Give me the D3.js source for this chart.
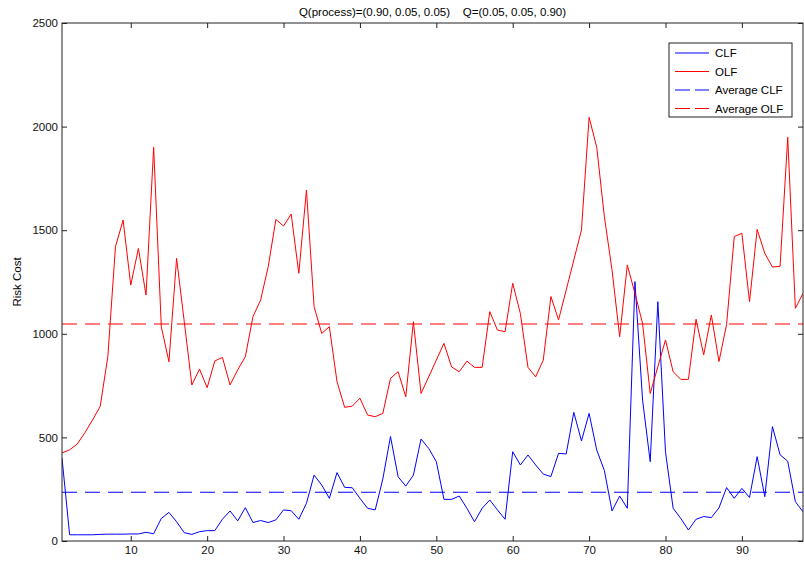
<!DOCTYPE html>
<html>
<head>
<meta charset="utf-8">
<script src="https://cdn.jsdelivr.net/npm/d3@7"></script>
<style>
    body { margin: 0; background: #fff; }
    text { font-family: "Liberation Sans", Arial, sans-serif; }
</style>
</head>
<body>
<div id="chart"></div>
<script>
// values, index 1..98
const steps = d3.range(1, 99);

const clf = [400, 30, 30, 30, 30, 32, 33, 33, 33, 34,
    34, 42, 35, 109, 138, 93, 40, 32, 45, 50,
    50, 105, 145, 97, 161, 89, 99, 89, 102, 150,
    146, 105, 182, 318, 270, 206, 330, 259, 257, 206,
    158, 150, 300, 504, 310, 265, 318, 492, 447, 383,
    201, 201, 217, 158, 93, 158, 198, 150, 105, 431,
    367, 415, 367, 323, 311, 423, 420, 621, 483, 616,
    439, 340, 145, 217, 158, 1252, 680, 383, 1155, 430,
    158, 109, 53, 105, 118, 113, 160, 258, 206, 254,
    210, 407, 214, 552, 416, 385, 190, 141];

const olf = [425, 440, 468, 523, 584, 650, 890, 1420, 1549, 1235,
    1412, 1187, 1900, 1034, 865, 1364, 1060, 753, 830, 740,
    869, 886, 753, 826, 889, 1083, 1163, 1325, 1552, 1520,
    1578, 1292, 1694, 1131, 1002, 1034, 769, 645, 651, 689,
    608, 600, 616, 785, 817, 696, 1058, 712, 792, 873,
    954, 840, 817, 868, 838, 838, 1107, 1018, 1010, 1244,
    1098, 838, 792, 873, 1180, 1067, 1211, 1356, 1501, 2045,
    1900, 1565, 1308, 986, 1332, 1195, 1050, 712, 841, 970,
    817, 780, 780, 1070, 898, 1091, 866, 1045, 1469, 1485,
    1155, 1504, 1388, 1322, 1326, 1948, 1123, 1195];

const avgClf = 235;
const avgOlf = 1047;

const xTicks = [10, 20, 30, 40, 50, 60, 70, 80, 90];
const yTicks = [0, 500, 1000, 1500, 2000, 2500];

const legendNames = ["CLF", "OLF", "Average CLF", "Average OLF"];
const legendColors = ["#0000ff", "#ff0000", "#0000ff", "#ff0000"];
const legendDashed = [false, false, true, true];

const title = "Q(process)=(0.90, 0.05, 0.05)    Q=(0.05, 0.05, 0.90)";

const render = () => {
    const width = 804;
    const height = 565;
    const left = 62, right = 803, top = 23, bottom = 541;

    let svg = d3.select("#chart").append("svg")
        .attr("width", width)
        .attr("height", height);

    let x = d3.scaleLinear().domain([1, 98]).range([left, right]);
    let y = d3.scaleLinear().domain([0, 2500]).range([bottom, top]);

    svg.append("clipPath").attr("id", "clip")
        .append("rect")
        .attr("x", left).attr("y", top)
        .attr("width", right - left).attr("height", bottom - top);

    // axes, ticks point inwards like matlab
    svg.append("g")
        .attr("transform", `translate(0,${bottom})`)
        .call(d3.axisBottom(x).tickValues(xTicks).tickSizeInner(-5).tickSizeOuter(0).tickPadding(5))
        .call(g => g.select(".domain").remove());
    svg.append("g")
        .attr("transform", `translate(0,${top})`)
        .call(d3.axisTop(x).tickValues(xTicks).tickSizeInner(-5).tickSizeOuter(0).tickFormat(""))
        .call(g => g.select(".domain").remove());
    svg.append("g")
        .attr("transform", `translate(${left},0)`)
        .call(d3.axisLeft(y).tickValues(yTicks).tickFormat(d3.format("d")).tickSizeInner(-5).tickSizeOuter(0).tickPadding(4))
        .call(g => g.select(".domain").remove());
    svg.append("g")
        .attr("transform", `translate(${right},0)`)
        .call(d3.axisRight(y).tickValues(yTicks).tickSizeInner(-5).tickSizeOuter(0).tickFormat(""))
        .call(g => g.select(".domain").remove());

    svg.selectAll(".tick line").attr("stroke", "#222");
    svg.selectAll(".tick text").attr("font-size", 11.5).attr("fill", "#111");

    let plot = svg.append("g").attr("clip-path", "url(#clip)");

    const line = d3.line().x((d, i) => x(steps[i])).y(d => y(d));

    plot.append("path").datum(clf)
        .attr("fill", "none").attr("stroke", "#0000ff").attr("stroke-width", 1)
        .attr("d", line);
    plot.append("path").datum(olf)
        .attr("fill", "none").attr("stroke", "#ff0000").attr("stroke-width", 1)
        .attr("d", line);

    plot.append("line")
        .attr("x1", left).attr("x2", right)
        .attr("y1", y(avgClf)).attr("y2", y(avgClf))
        .attr("stroke", "#0000ff").attr("stroke-width", 1.1).attr("stroke-dasharray", "15,8");
    plot.append("line")
        .attr("x1", left).attr("x2", right)
        .attr("y1", y(avgOlf)).attr("y2", y(avgOlf))
        .attr("stroke", "#ff0000").attr("stroke-width", 1.1).attr("stroke-dasharray", "15,8");

    // box
    svg.append("rect")
        .attr("x", left).attr("y", top)
        .attr("width", right - left).attr("height", bottom - top)
        .attr("fill", "none").attr("stroke", "#222");

    svg.append("text")
        .attr("x", (left + right) / 2).attr("y", 16)
        .attr("text-anchor", "middle").attr("font-size", 11.5)
        .attr("xml:space", "preserve")
        .text(title);

    svg.append("text")
        .attr("transform", `translate(21,${(top + bottom) / 2}) rotate(-90)`)
        .attr("text-anchor", "middle").attr("font-size", 11.5)
        .text("Risk Cost");

    // legend
    let lg = svg.append("g").attr("transform", "translate(669,43)");
    lg.append("rect")
        .attr("width", 123).attr("height", 74)
        .attr("fill", "#fff").attr("stroke", "#222");
    let items = lg.selectAll("g.item")
        .data(legendNames)
        .join("g")
        .attr("transform", (d, i) => `translate(0,${10 + i * 18.5})`);
    items.append("line")
        .attr("x1", 6).attr("x2", 40)
        .attr("stroke", (d, i) => legendColors[i])
        .attr("stroke-width", 1)
        .attr("stroke-dasharray", (d, i) => legendDashed[i] ? "15,5" : null);
    items.append("text")
        .attr("x", 46).attr("dy", "0.35em")
        .attr("font-size", 11.5)
        .text(d => d);
}

render();
</script>
</body>
</html>
